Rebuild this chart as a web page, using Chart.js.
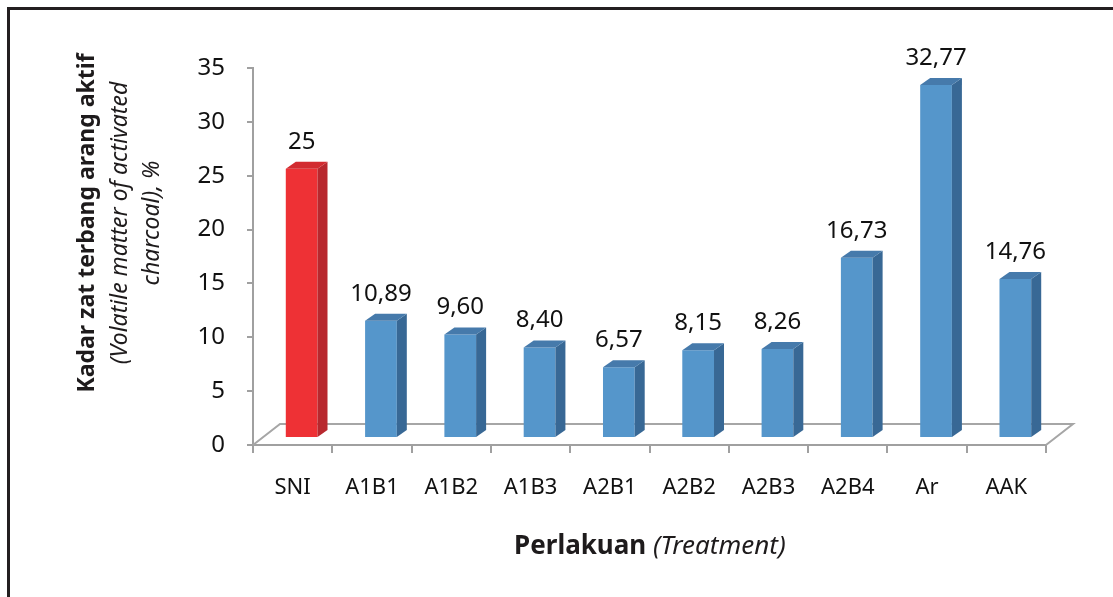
<!DOCTYPE html>
<html>
<head>
<meta charset="utf-8">
<script src="https://cdn.jsdelivr.net/npm/chart.js@4/dist/chart.umd.min.js"></script>
<style>
body { margin: 0; background: #fff; }
#bingkai { position: absolute; left: 7px; top: 7px; width: 1200px; height: 700px;
  border-left: 3px solid #231f20; border-top: 3px solid #231f20; }
#grafik { position: absolute; left: 0; top: 0; }
</style>
</head>
<body>
<div id="bingkai"></div>
<canvas id="grafik" width="1113" height="597"></canvas>
<script>
///// data
let perlakuan = ["SNI", "A1B1", "A1B2", "A1B3", "A2B1", "A2B2", "A2B3", "A2B4", "Ar", "AAK"];
let kadar = [25, 10.89, 9.60, 8.40, 6.57, 8.15, 8.26, 16.73, 32.77, 14.76];
let tickY = [0, 5, 10, 15, 20, 25, 30, 35];

///// warna
const merah = { depan: "#ee3135", samping: "#b8282e", atas: "#d22b30" };
const biru = { depan: "#5596cb", samping: "#386895", atas: "#467aab" };
const DX = 9, DY = 7;       // geser batang (kedalaman)
const SX = 10, SY = 7;      // sisi 3D
const FX = 27, FY = 21;     // lantai

function warna(i) { return i === 0 ? merah : biru; }
function formatAngka(v) {
    return Number.isInteger(v) ? String(v) : v.toFixed(2).replace(".", ",");
}

///// plugin 3D
let efek3d = {
    id: "efek3d",
    beforeDatasetsDraw(chart) {
        let ctx = chart.ctx;
        let a = chart.chartArea;
        let y0 = chart.scales.y.getPixelForValue(0);
        ctx.save();
        ctx.strokeStyle = "#a6a6a6";
        ctx.lineWidth = 2;
        ctx.beginPath();
        ctx.moveTo(a.left, y0);
        ctx.lineTo(a.left + FX, y0 - FY);
        ctx.lineTo(a.right + FX, y0 - FY);
        ctx.lineTo(a.right, y0);
        ctx.stroke();
        ctx.restore();
        ctx.save();
        ctx.translate(DX, -DY);
    },
    afterDatasetsDraw(chart) {
        let ctx = chart.ctx;
        let meta = chart.getDatasetMeta(0);
        meta.data.forEach((bar, i) => {
            let w = bar.width / 2;
            let c = warna(i);
            ctx.fillStyle = c.samping;
            ctx.beginPath();
            ctx.moveTo(bar.x + w, bar.y);
            ctx.lineTo(bar.x + w + SX, bar.y - SY);
            ctx.lineTo(bar.x + w + SX, bar.base - SY);
            ctx.lineTo(bar.x + w, bar.base);
            ctx.closePath();
            ctx.fill();
            ctx.fillStyle = c.atas;
            ctx.beginPath();
            ctx.moveTo(bar.x - w, bar.y);
            ctx.lineTo(bar.x - w + SX, bar.y - SY);
            ctx.lineTo(bar.x + w + SX, bar.y - SY);
            ctx.lineTo(bar.x + w, bar.y);
            ctx.closePath();
            ctx.fill();
            // label nilai
            ctx.fillStyle = "#111";
            ctx.font = "24px 'Noto Sans'";
            ctx.textAlign = "center";
            ctx.textBaseline = "middle";
            ctx.fillText(formatAngka(kadar[i]), bar.x, bar.y - 27);
        });
        ctx.restore();
    },
    afterDraw(chart) {
        let ctx = chart.ctx;
        ctx.save();
        ctx.fillStyle = "#1e1b1c";
        ctx.textAlign = "center";
        ctx.textBaseline = "alphabetic";
        // judul sumbu y
        let baris = [
            ["bold 23px 'Noto Sans'", "Kadar zat terbang arang aktif", 94],
            ["italic 23px 'Noto Sans'", "(Volatile matter of activated", 127],
            ["italic 23px 'Noto Sans'", "charcoal), %", 159]
        ];
        baris.forEach(b => {
            ctx.save();
            ctx.translate(b[2], 223);
            ctx.rotate(-Math.PI / 2);
            ctx.font = b[0];
            ctx.fillText(b[1], 0, 0);
            ctx.restore();
        });
        // judul sumbu x
        ctx.textAlign = "left";
        ctx.font = "bold 26px 'Noto Sans'";
        let t1 = "Perlakuan ";
        let w1 = ctx.measureText(t1).width;
        ctx.font = "italic 26px 'Noto Sans'";
        let t2 = "(Treatment)";
        let w2 = ctx.measureText(t2).width;
        let x0 = 650 - (w1 + w2) / 2;
        ctx.font = "bold 26px 'Noto Sans'";
        ctx.fillText(t1, x0, 554);
        ctx.font = "italic 26px 'Noto Sans'";
        ctx.fillText(t2, x0 + w1, 554);
        ctx.restore();
    }
};

///// grafik
let grafik = new Chart(document.getElementById("grafik"), {
    type: "bar",
    data: {
        labels: perlakuan,
        datasets: [{
            data: kadar,
            backgroundColor: ctx => warna(ctx.dataIndex).depan,
            barPercentage: 0.4,
            categoryPercentage: 1
        }]
    },
    options: {
        responsive: false,
        animation: false,
        layout: { padding: { top: 68, right: 67, bottom: 0, left: 0 } },
        plugins: { legend: { display: false }, tooltip: { enabled: false } },
        scales: {
            y: {
                min: 0,
                max: 35,
                afterBuildTicks: s => { s.ticks = tickY.map(v => ({ value: v })); },
                afterFit: s => { s.width = 253; },
                grid: { drawOnChartArea: false, tickLength: 6, color: "#a0a0a0", lineWidth: 2 },
                border: { color: "#a0a0a0", width: 2 },
                ticks: { padding: 22, color: "#111", font: { family: "Noto Sans", size: 24 } }
            },
            x: {
                afterFit: s => { s.height = 152; },
                grid: { drawOnChartArea: false, tickLength: 8, color: "#a0a0a0", lineWidth: 2 },
                border: { color: "#a0a0a0", width: 2 },
                ticks: { padding: 22, color: "#111", font: { family: "Noto Sans", size: 22 } }
            }
        }
    },
    plugins: [efek3d]
});
</script>
</body>
</html>
